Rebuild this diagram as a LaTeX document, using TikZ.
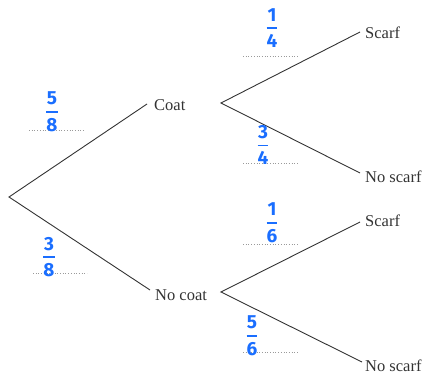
\documentclass[tikz,border=0pt]{standalone}
\usepackage{amsmath}
\usepackage{fontspec}
\setmainfont{Liberation Serif}
\newfontfamily\handfont{Fira Sans}
\definecolor{ink}{HTML}{333333}
\definecolor{hand}{HTML}{1A6EFF}
\definecolor{dots}{HTML}{9A9A9A}
\newcommand\hfrac[2]{$\displaystyle\genfrac{}{}{1.8pt}{}{\text{#1}}{\text{#2}}$}
\tikzset{
  branch/.style={draw=ink, line width=0.9pt},
  outcome/.style={anchor=west, inner sep=0pt, text=ink, font=\fontsize{16.5}{18}\selectfont},
  answerline/.style={draw=dots, line width=0.7pt, dotted},
  prob/.style={inner sep=0pt, text=hand, font=\handfont\bfseries\fontsize{19}{21}\selectfont},
}
\begin{document}
\begin{tikzpicture}[x=1pt,y=-1pt]
\useasboundingbox (0,0) rectangle (423,374);
% branch points and ends
\coordinate (root) at (9,197);
\coordinate (ecoat) at (147,104);
\coordinate (enocoat) at (150,290);
\coordinate (rcoat) at (221,103);
\coordinate (rnocoat) at (221,292);
\coordinate (e1) at (360,32);
\coordinate (e2) at (360,173);
\coordinate (e3) at (360,222);
\coordinate (e4) at (362,362);
% outcome labels
\node[outcome] (coat) at (154,105) {Coat};
\node[outcome] (nocoat) at (155,295) {No coat};
\node[outcome] (s1) at (365,33) {Scarf};
\node[outcome] (ns1) at (365,177) {No scarf};
\node[outcome] (s2) at (365,221) {Scarf};
\node[outcome] (ns2) at (365,366) {No scarf};
% branches
\draw[branch] (ecoat) -- (root) -- (enocoat);
\draw[branch] (e1) -- (rcoat) -- (e2);
\draw[branch] (e3) -- (rnocoat) -- (e4);
% answer lines
\coordinate (a1l) at (29,130); \coordinate (a1r) at (84,130);
\coordinate (a2l) at (33,273); \coordinate (a2r) at (87,273);
\coordinate (a3l) at (243,56); \coordinate (a3r) at (298,56);
\coordinate (a4l) at (243,163); \coordinate (a4r) at (298,163);
\coordinate (a5l) at (243,244); \coordinate (a5r) at (298,244);
\coordinate (a6l) at (243,352); \coordinate (a6r) at (298,352);
\draw[answerline] (a1l) -- (a1r);
\draw[answerline] (a2l) -- (a2r);
\draw[answerline] (a3l) -- (a3r);
\draw[answerline] (a4l) -- (a4r);
\draw[answerline] (a5l) -- (a5r);
\draw[answerline] (a6l) -- (a6r);
% handwritten probabilities
\node[prob] (p1) at (52,112) {\hfrac{5}{8}};
\node[prob] (p2) at (49,257) {\hfrac{3}{8}};
\node[prob] (p3) at (272,28) {\hfrac{1}{4}};
\node[prob] (p4) at (263,145) {\hfrac{3}{4}};
\node[prob] (p5) at (272,223) {\hfrac{1}{6}};
\node[prob] (p6) at (252,336) {\hfrac{5}{6}};
\end{tikzpicture}
\end{document}
